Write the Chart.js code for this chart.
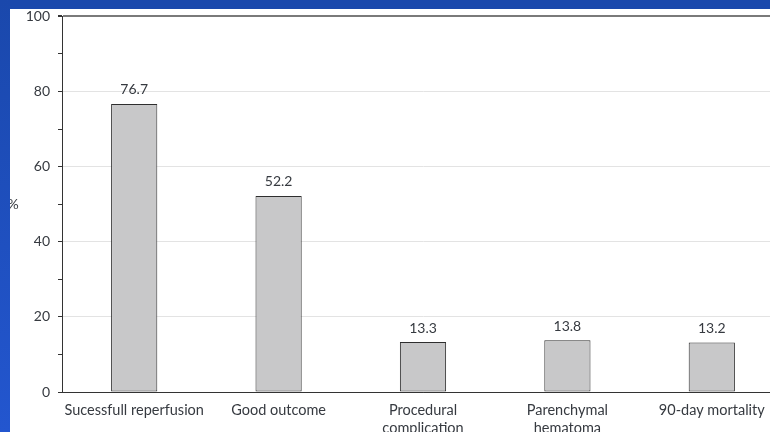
<!DOCTYPE html>
<html>
<head>
<meta charset="utf-8">
<script src="https://cdn.jsdelivr.net/npm/chart.js@4/dist/chart.umd.min.js"></script>
<style>
  html, body { margin: 0; padding: 0; width: 770px; height: 432px; overflow: hidden; background: #fff; }
  #wrap { position: absolute; left: 0; top: 0; width: 792px; height: 432px; }
  #topbar { position: absolute; left: 0; top: 0; width: 770px; height: 9px; background: #1a48ac; z-index: 2; }
  #leftbar { position: absolute; left: 0; top: 0; width: 10px; height: 432px;
             background: linear-gradient(#1a48ac, #2356cf); z-index: 2; }
</style>
</head>
<body>
<div id="topbar"></div>
<div id="leftbar"></div>
<div id="wrap"><canvas id="c" width="792" height="432"></canvas></div>
<script>
// Outcome categories and their percentages
const categories = [
  'Sucessfull reperfusion',
  'Good outcome',
  ['Procedural', 'complication'],
  ['Parenchymal', 'hematoma'],
  '90-day mortality'
];
const percentages = [76.7, 52.2, 13.3, 13.8, 13.2];
const yTickLabels = [0, 20, 40, 60, 80, 100];

const FONT = 'Lato, "Open Sans", sans-serif';
const TEXT = '#363a40';

// Writes each bar's value above it
const valueLabels = {
  id: 'valueLabels',
  afterDatasetsDraw(chart) {
    const ctx = chart.ctx;
    const meta = chart.getDatasetMeta(0);
    ctx.save();
    ctx.font = '14px ' + FONT;
    ctx.fillStyle = TEXT;
    ctx.textAlign = 'center';
    ctx.textBaseline = 'bottom';
    meta.data.forEach((bar, i) => {
      ctx.fillText(percentages[i].toFixed(1), bar.x, bar.y - 7);
    });
    ctx.restore();
  }
};

// Axis title "%" placed beside the y axis
const percentTitle = {
  id: 'percentTitle',
  afterDraw(chart) {
    const ctx = chart.ctx;
    const y = chart.scales.y.getPixelForValue(50);
    ctx.save();
    ctx.font = '14px ' + FONT;
    ctx.fillStyle = TEXT;
    ctx.textAlign = 'center';
    ctx.textBaseline = 'middle';
    ctx.fillText('%', 13, y);
    ctx.restore();
  }
};

new Chart(document.getElementById('c'), {
  type: 'bar',
  data: {
    labels: categories,
    datasets: [{
      data: percentages,
      backgroundColor: '#c8c8c9',
      borderColor: '#2e2e2e',
      borderWidth: 1,
      borderSkipped: false,
      barPercentage: 0.32,
      categoryPercentage: 1
    }]
  },
  options: {
    responsive: false,
    animation: false,
    layout: { padding: { top: 15, right: 8, left: 0, bottom: 0 } },
    plugins: { legend: { display: false }, tooltip: { enabled: false } },
    scales: {
      x: {
        grid: { display: false, drawTicks: false },
        border: { color: '#333333', width: 1 },
        ticks: { color: TEXT, font: { family: FONT, size: 14.5, lineHeight: 1.25 }, padding: 9, maxRotation: 0, autoSkip: false },
        afterFit(s) { s.height = 40; }
      },
      y: {
        min: 0, max: 100,
        grid: {
          color: ctx => {
            const v = ctx.tick.value;
            if (v === 100) return '#7a7a7a';
            if (v === 0) return '#333333';
            return v % 20 === 0 ? '#e3e3e3' : 'rgba(0,0,0,0)';
          },
          lineWidth: ctx => (ctx.tick.value === 100 ? 2 : 1),
          tickColor: '#333333',
          tickLength: 4
        },
        border: { color: '#333333', width: 1 },
        ticks: {
          stepSize: 10,
          padding: 8,
          color: TEXT,
          font: { family: FONT, size: 14 },
          callback: v => (yTickLabels.includes(v) ? String(v) : '')
        },
        afterFit(s) { s.width = 62; }
      }
    }
  },
  plugins: [valueLabels, percentTitle]
});
</script>
</body>
</html>
